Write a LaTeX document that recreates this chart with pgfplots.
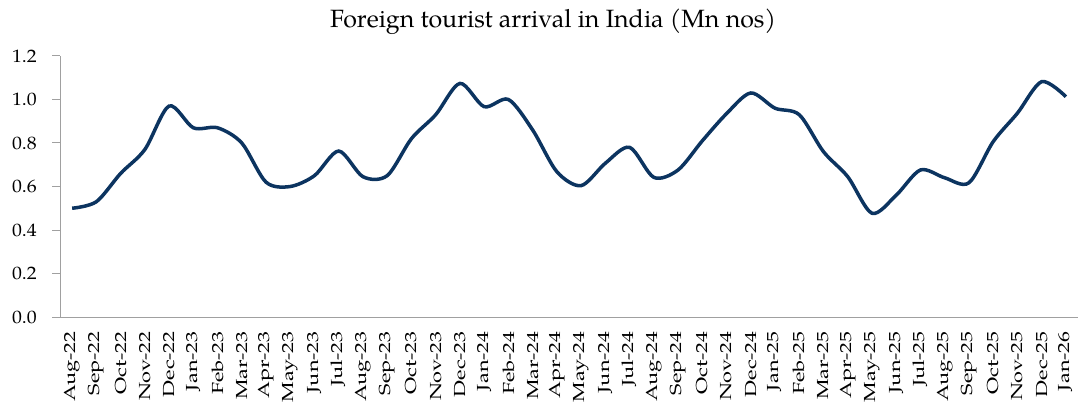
\documentclass[border=0pt]{standalone}
\usepackage{pgfplots}
\pgfplotsset{compat=1.18}
\usepackage{fontspec}
\setmainfont{texgyrepagella-regular.otf}
\definecolor{navy}{RGB}{12,52,96}
\definecolor{axgray}{RGB}{160,160,160}
\begin{document}
\begin{tikzpicture}
\begin{axis}[
  at={(0,0)}, anchor=south west,
  scale only axis,
  width=1018bp, height=261bp,
  xmin=-0.5, xmax=41.5,
  ymin=0, ymax=1.2,
  ytick={0,0.2,...,1.2},
  axis lines*=left,
  axis line style={axgray, line width=1bp},
  y axis line style={-},
  x axis line style={-},
  xtick=data,
  xticklabels={Aug-22,Sep-22,Oct-22,Nov-22,Dec-22,Jan-23,Feb-23,Mar-23,Apr-23,May-23,Jun-23,Jul-23,Aug-23,Sep-23,Oct-23,Nov-23,Dec-23,Jan-24,Feb-24,Mar-24,Apr-24,May-24,Jun-24,Jul-24,Aug-24,Sep-24,Oct-24,Nov-24,Dec-24,Jan-25,Feb-25,Mar-25,Apr-25,May-25,Jun-25,Jul-25,Aug-25,Sep-25,Oct-25,Nov-25,Dec-25,Jan-26},
  x tick label style={rotate=90, xscale=1.36, anchor=east, font=\fontsize{16bp}{17bp}\selectfont, inner sep=0bp},
  xticklabel shift=6bp,
  y tick label style={font=\fontsize{18bp}{19bp}\selectfont, xscale=1.1, inner sep=0bp},
  yticklabel shift=15bp,
  yticklabel style={/pgf/number format/.cd, fixed, fixed zerofill, precision=1, assume math mode=true},
  xtick style={draw=none},
  ytick style={axgray, line width=1bp},
  tick align=outside,
  major tick length=8bp,
  clip=false,
]
\addplot[navy, line width=3.5bp, smooth, tension=0.5] coordinates {
(0,0.50) (1,0.53) (2,0.66) (3,0.77) (4,0.97) (5,0.87) (6,0.87) (7,0.80)
(8,0.62) (9,0.60) (10,0.65) (11,0.763) (12,0.645) (13,0.65) (14,0.82) (15,0.93)
(16,1.074) (17,0.967) (18,1.00) (19,0.86) (20,0.668) (21,0.604) (22,0.707) (23,0.78)
(24,0.642) (25,0.676) (26,0.81) (27,0.935) (28,1.03) (29,0.96) (30,0.93) (31,0.76)
(32,0.645) (33,0.477) (34,0.56) (35,0.676) (36,0.64) (37,0.617) (38,0.806) (39,0.937)
(40,1.082) (41,1.013)
};
\end{axis}
\node[anchor=base, font=\fontsize{25bp}{27bp}\selectfont] at (493bp,289bp) {Foreign tourist arrival in India (Mn nos)};
\pgfresetboundingbox
\path[use as bounding box] (-60bp,-89bp) rectangle (1018bp,317bp);
\end{tikzpicture}
\end{document}
